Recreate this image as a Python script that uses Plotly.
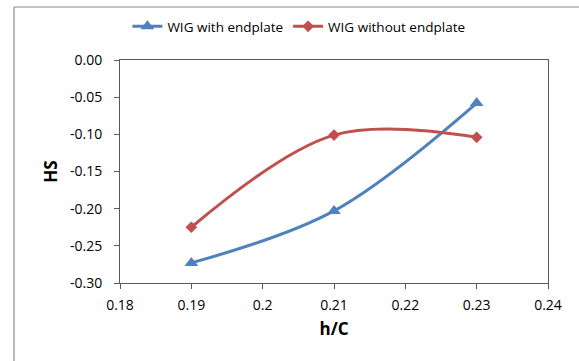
import plotly.graph_objects as go

# Ground clearance ratio and height stability values
h_over_c = [0.19, 0.21, 0.23]
hs_with_endplate = [-0.273, -0.203, -0.058]
hs_without_endplate = [-0.225, -0.101, -0.104]

x_ticks = [0.18, 0.19, 0.20, 0.21, 0.22, 0.23, 0.24]
x_tick_text = ["0.18", "0.19", "0.2", "0.21", "0.22", "0.23", "0.24"]
y_ticks = [0.00, -0.05, -0.10, -0.15, -0.20, -0.25, -0.30]
y_tick_text = ["0.00", "-0.05", "-0.10", "-0.15", "-0.20", "-0.25", "-0.30"]

FONT = "Open Sans, Noto Sans, sans-serif"
TICK_FONT = dict(family=FONT, size=14, color="#000000")

fig = go.Figure()
fig.add_trace(go.Scatter(
    x=h_over_c, y=hs_with_endplate, name="WIG with endplate",
    mode="lines+markers",
    line=dict(color="#4F81BD", width=3, shape="spline", smoothing=1.0),
    marker=dict(symbol="triangle-up", size=12, color="#4F81BD"),
))
fig.add_trace(go.Scatter(
    x=h_over_c, y=hs_without_endplate, name="WIG without endplate",
    mode="lines+markers",
    line=dict(color="#C0504D", width=3, shape="spline", smoothing=1.0),
    marker=dict(symbol="diamond", size=9, color="#C0504D"),
))

fig.update_layout(
    width=579, height=361,
    margin=dict(l=120, r=31, t=60, b=78, autoexpand=False),
    paper_bgcolor="white", plot_bgcolor="white",
    font=dict(family=FONT, size=13, color="#000000"),
    showlegend=True,
    legend=dict(
        orientation="h", x=0.418, y=1.15, xanchor="center", yanchor="middle",
        font=dict(family=FONT, size=13.5, color="#000000"),
        itemwidth=30, tracegroupgap=0, bgcolor="rgba(0,0,0,0)",
    ),
    xaxis=dict(
        range=[0.18, 0.24], tickmode="array", tickvals=x_ticks, ticktext=x_tick_text,
        showgrid=False, zeroline=False, showline=True, linecolor="#595959", linewidth=1,
        mirror=True, ticks="outside", ticklen=5, tickcolor="#595959", automargin=False,
        tickfont=TICK_FONT, ticklabelstandoff=4,
        title=dict(text="<b>h/C</b>", font=dict(family=FONT, size=17), standoff=10),
    ),
    yaxis=dict(
        range=[-0.30, 0.0], tickmode="array", tickvals=y_ticks, ticktext=y_tick_text,
        showgrid=False, zeroline=False, showline=True, linecolor="#595959", linewidth=1,
        mirror=True, ticks="outside", ticklen=5, tickcolor="#595959", automargin=False,
        tickfont=TICK_FONT, ticklabelstandoff=9,
        title=dict(text="<b>HS</b>", font=dict(family=FONT, size=17), standoff=8),
    ),
    shapes=[
        # chart-area frame: left and top edges
        dict(type="line", xref="paper", yref="paper", x0=-0.2477, x1=-0.2477, y0=1.2377, y1=-0.36,
             line=dict(color="#8C8C8C", width=1.2)),
        dict(type="line", xref="paper", yref="paper", x0=-0.2477, x1=1.08, y0=1.2377, y1=1.2377,
             line=dict(color="#8C8C8C", width=1.2)),
    ],
)

fig.write_html("out.html")
